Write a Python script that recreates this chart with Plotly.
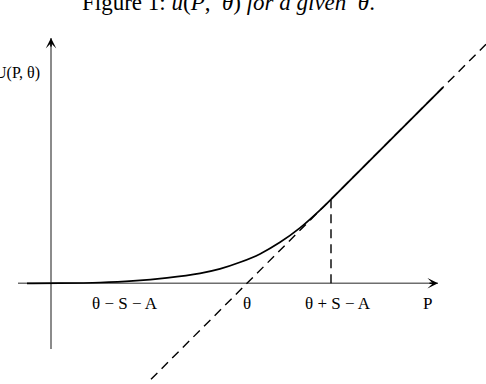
import plotly.graph_objects as go

# ---- data (arbitrary units) ----
curve_P = [-1.2, 0.45, 2.45, 4.1, 5.8, 7.45, 8.45, 9.45, 10.45, 11.45, 12.45, 13.45, 14.0]
curve_U = [0.0, 0.005, 0.04, 0.12, 0.275, 0.5, 0.72, 1.05, 1.47, 2.05, 2.77, 3.66, 4.2]
upper_P = [14.0, 19.6]
upper_U = [4.2, 9.8]

line_P = [5.0, 21.75]          # 45-degree line U = P - theta
theta = 9.8
tangent_P = 14.0               # theta + S - A
tick_text = ["θ − S − A", "θ", "θ + S − A", "P"]
tick_P = [3.7, 9.8, 14.35, 18.8]

x_axis_P = [-1.65, 19.35]
y_axis_U = [-3.285, 12.27]

SERIF = "Liberation Serif"

fig = go.Figure()

# axes (gray lines)
fig.add_trace(go.Scatter(x=x_axis_P, y=[0, 0], mode="lines",
                         line=dict(color="#6e6e6e", width=1.6), hoverinfo="skip"))
fig.add_trace(go.Scatter(x=[0, 0], y=y_axis_U, mode="lines",
                         line=dict(color="#6e6e6e", width=1.6), hoverinfo="skip"))

# dashed 45-degree line
fig.add_trace(go.Scatter(x=line_P, y=[p - theta for p in line_P], mode="lines",
                         line=dict(color="black", width=1.4, dash="9px,6px"), hoverinfo="skip"))
# vertical dashed line at theta + S - A
fig.add_trace(go.Scatter(x=[tangent_P, tangent_P], y=[0, tangent_P - theta], mode="lines",
                         line=dict(color="black", width=1.4, dash="9px,6px"), hoverinfo="skip"))
# utility curve (smooth part + linear part)
fig.add_trace(go.Scatter(x=curve_P, y=curve_U, mode="lines", line_shape="spline",
                         line=dict(color="black", width=1.7, smoothing=1.0), hoverinfo="skip"))
fig.add_trace(go.Scatter(x=upper_P, y=upper_U, mode="lines",
                         line=dict(color="black", width=1.7), hoverinfo="skip"))

# arrowheads
fig.add_annotation(x=x_axis_P[1], y=0, ax=x_axis_P[1] - 0.5, ay=0, xref="x", yref="y",
                   axref="x", ayref="y", showarrow=True, arrowhead=3, arrowsize=1.1,
                   arrowwidth=1.6, arrowcolor="black", text="")
fig.add_annotation(x=0, y=y_axis_U[1], ax=0, ay=y_axis_U[1] - 0.5, xref="x", yref="y",
                   axref="x", ayref="y", showarrow=True, arrowhead=3, arrowsize=1.1,
                   arrowwidth=1.6, arrowcolor="black", text="")

# tick labels
for t, p in zip(tick_text, tick_P):
    fig.add_annotation(x=p, y=-1.0, xref="x", yref="y", text=t, showarrow=False,
                       font=dict(family=SERIF, size=17, color="black"),
                       xanchor="center", yanchor="middle")

# y label
fig.add_annotation(x=-0.45, y=10.5, xref="x", yref="y", text="U(P, θ)", showarrow=False,
                   font=dict(family=SERIF, size=16, color="black"),
                   xanchor="right", yanchor="middle")

# title (partially cut at top in the reference)
fig.add_annotation(x=228 / 486, y=1 - 2.5 / 384, xref="paper", yref="paper",
                   text="Figure 1: <i>u</i>(<i>P</i>,  <i>θ</i>) <i>for a given</i>  <i>θ</i>.",
                   showarrow=False, font=dict(family=SERIF, size=23, color="black"),
                   xanchor="center", yanchor="middle")

fig.update_layout(
    width=486, height=384,
    margin=dict(l=0, r=0, t=0, b=0),
    paper_bgcolor="white", plot_bgcolor="white",
    showlegend=False,
    xaxis=dict(range=[-2.55, 21.75], visible=False, fixedrange=True),
    yaxis=dict(range=[-5.035, 14.165], visible=False, fixedrange=True),
)

fig.write_html("out.html", config={"displayModeBar": False})
